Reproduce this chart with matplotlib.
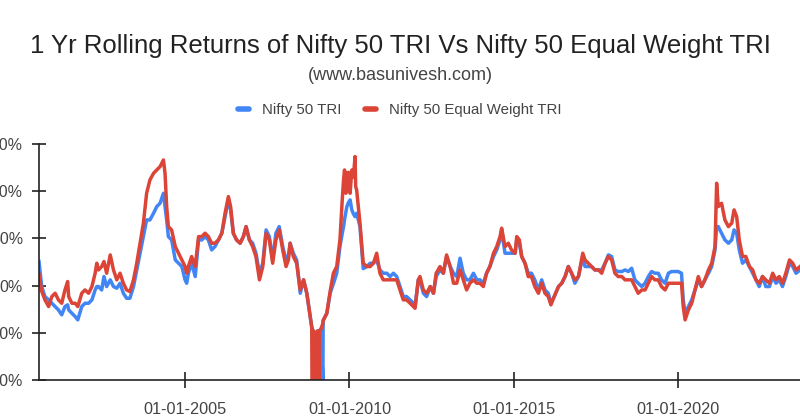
import pandas as pd
import matplotlib
matplotlib.use("Agg")
import matplotlib.pyplot as plt
import matplotlib.dates as mdates
from matplotlib.lines import Line2D
from matplotlib.ticker import FuncFormatter

plt.rcParams['font.family'] = ['Liberation Sans', 'DejaVu Sans']

title = "1 Yr Rolling Returns of Nifty 50 TRI Vs Nifty 50 Equal Weight TRI"
subtitle = "(www.basunivesh.com)"
series_names = ["Nifty 50 TRI", "Nifty 50 Equal Weight TRI"]
colors = ["#4285F4", "#DB4437"]

# (1 yr rolling return, %)
dates = [
    "2000-07-16", "2000-08-15", "2000-09-20", "2000-10-31", "2000-12-06",
    "2001-01-12", "2001-02-17", "2001-03-26", "2001-05-01", "2001-05-31",
    "2001-06-11", "2001-07-17", "2001-08-23", "2001-09-21", "2001-11-04",
    "2001-12-10", "2002-01-19", "2002-02-25", "2002-04-02", "2002-04-20",
    "2002-05-09", "2002-06-14", "2002-07-09", "2002-08-08", "2002-09-17",
    "2002-10-23", "2002-11-29", "2003-01-04", "2003-02-10", "2003-03-18",
    "2003-04-24", "2003-06-03", "2003-07-09", "2003-08-15", "2003-09-21",
    "2003-10-27", "2003-12-03", "2004-01-12", "2004-02-17", "2004-03-25",
    "2004-05-01", "2004-05-19", "2004-06-06", "2004-06-25", "2004-07-31",
    "2004-09-10", "2004-10-16", "2004-11-22", "2004-12-28", "2005-01-15",
    "2005-02-03", "2005-03-11", "2005-04-20", "2005-05-27", "2005-07-02",
    "2005-08-08", "2005-09-13", "2005-10-20", "2005-11-25", "2006-01-04",
    "2006-02-10", "2006-03-18", "2006-04-24", "2006-05-19", "2006-06-18",
    "2006-07-24", "2006-09-02", "2006-10-08", "2006-11-07", "2006-12-14",
    "2007-01-19", "2007-02-25", "2007-04-05", "2007-05-12", "2007-06-18",
    "2007-07-24", "2007-08-30", "2007-10-05", "2007-11-11", "2007-12-20",
    "2008-01-26", "2008-02-21", "2008-03-11", "2008-04-16", "2008-05-23",
    "2008-07-02", "2008-08-08", "2008-09-13", "2008-10-20", "2008-11-07",
    "2008-11-14", "2008-11-18", "2008-12-06", "2008-12-21", "2008-12-24",
    "2009-01-12", "2009-01-27", "2009-01-30", "2009-02-17", "2009-03-11",
    "2009-03-14", "2009-04-24", "2009-05-31", "2009-07-06", "2009-08-12",
    "2009-09-17", "2009-10-12", "2009-10-27", "2009-11-07", "2009-11-22",
    "2009-12-03", "2009-12-21", "2010-01-08", "2010-01-27", "2010-02-14",
    "2010-03-04", "2010-03-11", "2010-03-22", "2010-04-28", "2010-06-03",
    "2010-07-13", "2010-08-19", "2010-09-24", "2010-10-31", "2010-12-06",
    "2011-01-12", "2011-02-21", "2011-03-29", "2011-05-05", "2011-06-11",
    "2011-07-17", "2011-08-23", "2011-09-28", "2011-11-07", "2011-12-14",
    "2012-01-01", "2012-02-06", "2012-02-25", "2012-04-02", "2012-05-09",
    "2012-06-18", "2012-07-24", "2012-08-23", "2012-10-05", "2012-11-11",
    "2012-12-17", "2013-01-26", "2013-03-04", "2013-04-09", "2013-05-16",
    "2013-06-21", "2013-07-28", "2013-09-02", "2013-10-12", "2013-11-18",
    "2013-12-24", "2014-01-30", "2014-03-07", "2014-04-13", "2014-05-23",
    "2014-06-28", "2014-08-04", "2014-08-22", "2014-09-28", "2014-11-04",
    "2014-12-10", "2015-01-19", "2015-02-06", "2015-03-07", "2015-04-02",
    "2015-05-09", "2015-06-14", "2015-07-20", "2015-08-26", "2015-10-05",
    "2015-11-11", "2015-12-17", "2016-01-23", "2016-02-21", "2016-03-29",
    "2016-05-16", "2016-06-21", "2016-07-28", "2016-09-02", "2016-10-09",
    "2016-11-14", "2016-12-24", "2017-02-10", "2017-03-07", "2017-04-13",
    "2017-05-19", "2017-06-25", "2017-08-04", "2017-09-09", "2017-10-16",
    "2017-11-22", "2017-12-28", "2018-02-03", "2018-03-11", "2018-04-20",
    "2018-05-27", "2018-07-02", "2018-08-08", "2018-09-13", "2018-10-20",
    "2018-11-29", "2019-01-04", "2019-02-10", "2019-03-18", "2019-04-24",
    "2019-05-31", "2019-07-06", "2019-08-15", "2019-09-21", "2019-10-27",
    "2019-12-03", "2020-01-08", "2020-02-14", "2020-03-04", "2020-03-25",
    "2020-05-01", "2020-06-07", "2020-07-13", "2020-08-19", "2020-09-24",
    "2020-10-31", "2020-12-10", "2021-01-15", "2021-02-21", "2021-03-11",
    "2021-03-29", "2021-05-05", "2021-06-11", "2021-07-20", "2021-08-26",
    "2021-09-21", "2021-10-20", "2021-11-18", "2021-12-24", "2022-01-30",
    "2022-03-11", "2022-04-16", "2022-05-23", "2022-06-28", "2022-08-04",
    "2022-09-09", "2022-10-20", "2022-11-25", "2023-01-01", "2023-02-06",
    "2023-03-14", "2023-04-20", "2023-05-31", "2023-07-06", "2023-08-12",
    "2023-09-25",
]

nifty50_tri = [
    25.5, -1.0, -11.6, -15.1, -18.7,
    -22.2, -25.7, -31.0, -22.2, -20.4,
    -25.7, -29.3, -32.8, -36.3, -22.2,
    -18.7, -18.7, -15.1, -4.6, -1.0,
    -1.0, -4.6, 9.6, -1.0, 6.1,
    -1.0, -2.8, 2.5, -8.1, -13.4,
    -13.4, -1.0, 16.6, 34.3, 52.0,
    69.6, 69.6, 76.7, 83.7, 87.3,
    97.8, 83.7, 69.6, 51.9, 48.4,
    27.2, 23.7, 20.2, 6.1, 2.5,
    13.1, 23.7, 9.6, 48.4, 48.4,
    51.9, 48.4, 37.8, 41.3, 48.4,
    55.5, 73.1, 90.8, 80.2, 55.5,
    48.4, 44.9, 51.9, 62.5, 48.4,
    44.9, 34.3, 13.1, 23.7, 59.0,
    51.9, 27.2, 55.5, 62.5, 41.3,
    27.2, 30.8, 44.9, 34.3, 27.2,
    -8.1, 6.1, -8.1, -32.8, -44.0,
    -46.0, -47.0, -50.0, -50.0, -50.0,
    -48.0, -100.0, -48.0, -46.0, -100.0,
    -37.0, -29.3, -8.0, 2.0, 13.1,
    41.3, 55.0, 62.5, 70.0, 78.0,
    83.7, 88.0, 90.8, 80.2, 76.0,
    73.1, 75.0, 76.6, 62.5, 18.0,
    20.2, 23.7, 23.7, 27.2, 16.6,
    13.1, 13.1, 9.6, 13.1, 9.6,
    -1.0, -11.6, -11.6, -15.1, -18.7,
    -22.2, 6.1, 6.1, -8.1, -11.6,
    -1.0, -8.1, 9.6, 16.6, 13.1,
    30.8, 20.2, 13.1, 9.6, 29.0,
    13.1, 6.1, 6.1, 13.1, 6.1,
    6.1, 2.5, 13.1, 20.2, 30.8,
    37.8, 48.4, 59.0, 34.3, 34.3,
    34.3, 34.3, 48.4, 44.9, 30.8,
    23.7, 13.1, 13.1, 6.1, -4.6,
    6.1, -4.6, -8.1, -18.7, -11.6,
    -1.0, 2.5, 9.6, 20.2, 13.1,
    2.5, 9.6, 30.8, 20.2, 20.2,
    20.2, 16.6, 16.6, 16.6, 23.7,
    32.5, 30.8, 16.6, 14.9, 14.9,
    16.6, 14.9, 18.4, 6.1, 2.5,
    -1.0, 2.5, 9.6, 14.9, 13.1,
    13.1, 6.1, 2.5, 13.1, 14.9,
    14.9, 14.9, 13.1, -15.1, -29.3,
    -22.2, -15.1, -4.6, 6.1, -1.0,
    6.1, 13.1, 20.2, 37.8, 62.5,
    62.5, 55.5, 48.4, 44.9, 48.4,
    59.0, 55.5, 37.8, 23.7, 27.2,
    20.2, 13.1, 6.1, -1.0, 9.6,
    -1.0, -1.0, 9.6, 2.5, 6.1,
    -1.0, 9.6, 23.7, 20.2, 13.1,
    16.6,
]

nifty50_ew_tri = [
    12.0, -6.0, -15.1, -22.2, -11.6,
    -8.1, -15.1, -18.7, -4.6, 4.3,
    -11.6, -18.7, -18.7, -22.2, -8.1,
    -4.6, -8.1, -1.0, 13.1, 23.7,
    16.6, 20.2, 25.5, 13.1, 32.5,
    16.6, 6.1, 13.1, 2.5, -4.6,
    -6.3, 6.1, 23.7, 44.9, 66.1,
    97.8, 112.0, 119.0, 122.5, 126.1,
    133.1, 119.0, 83.7, 62.5, 59.0,
    41.3, 34.3, 27.2, 20.2, 13.1,
    20.2, 30.8, 20.2, 51.9, 51.9,
    55.5, 51.9, 44.9, 44.9, 48.4,
    55.5, 76.6, 94.3, 83.7, 55.5,
    48.4, 44.9, 51.9, 62.5, 48.4,
    41.3, 30.8, 6.1, 20.2, 55.5,
    48.4, 23.7, 48.4, 59.0, 37.8,
    20.2, 27.2, 44.9, 30.8, 23.7,
    -4.6, 6.1, -8.1, -32.8, -44.0,
    -100.0, -47.0, -50.0, -100.0, -50.0,
    -48.0, -100.0, -48.0, -46.0, -40.0,
    -37.0, -29.3, -6.0, 13.1, 20.2,
    48.4, 90.0, 112.0, 122.5, 97.8,
    119.0, 120.0, 97.8, 122.5, 115.0,
    136.7, 105.0, 101.3, 66.1, 23.7,
    20.2, 20.2, 23.7, 34.3, 13.1,
    6.1, 6.1, 6.1, 6.1, 6.1,
    -4.6, -15.1, -15.1, -18.7, -22.2,
    -24.0, 6.1, 9.6, -4.6, -8.1,
    -1.0, -8.1, 13.1, 20.2, 13.1,
    32.5, 20.2, 2.5, 2.5, 16.6,
    6.1, -4.6, 2.5, 6.1, 2.5,
    2.5, -1.0, 13.1, 20.2, 34.3,
    41.3, 51.9, 60.8, 41.3, 44.9,
    37.8, 34.3, 51.9, 48.4, 30.8,
    23.7, 9.6, 9.6, -1.0, -8.1,
    2.5, -8.1, -11.6, -20.4, -11.6,
    -1.0, 2.5, 9.6, 20.2, 13.1,
    6.1, 9.6, 34.3, 27.2, 23.7,
    20.2, 16.6, 16.6, 13.1, 23.7,
    30.8, 27.2, 13.1, 9.6, 9.6,
    6.1, 6.1, 6.1, -1.0, -8.1,
    -4.6, -4.6, 2.5, 9.6, 6.1,
    6.1, -1.0, -4.6, 2.5, 2.5,
    2.5, 2.5, 2.5, -22.2, -36.3,
    -25.7, -18.7, -4.6, 9.6, -1.0,
    6.1, 16.6, 23.7, 41.3, 108.4,
    83.7, 87.2, 69.6, 62.5, 66.1,
    80.2, 73.1, 48.4, 30.8, 30.8,
    20.2, 16.6, 6.1, 2.5, 9.6,
    6.1, 2.5, 13.1, 6.1, 9.6,
    2.5, 13.1, 27.2, 23.7, 16.6,
    20.2,
]

x_range = ("2000-07-16", "2023-09-25")
y_ticks = [-100, -50, 0, 50, 100, 150]
x_ticks = ["2005-01-01", "2010-01-01", "2015-01-01", "2020-01-01"]

x = pd.to_datetime(dates)

fig = plt.figure(figsize=(8, 4.19), dpi=100)
ax = fig.add_axes([0.04875, 0.0931, 0.95125, 0.5632])

ax.plot(x, nifty50_tri, color=colors[0], lw=2.5, solid_joinstyle="round")
ax.plot(x, nifty50_ew_tri, color=colors[1], lw=2.5, solid_joinstyle="round")

ax.set_xlim(pd.to_datetime(x_range[0]), pd.to_datetime(x_range[1]))
ax.set_ylim(y_ticks[0], y_ticks[-1])
ax.set_yticks(y_ticks)
ax.yaxis.set_major_formatter(FuncFormatter(lambda v, p: f"{v:.0f}%"))
ax.set_xticks(pd.to_datetime(x_ticks))
ax.xaxis.set_major_formatter(mdates.DateFormatter("%d-%m-%Y"))

for s in ["top", "right"]:
    ax.spines[s].set_visible(False)
for s in ["left", "bottom"]:
    ax.spines[s].set_color("#222222")
    ax.spines[s].set_linewidth(1.2)
ax.tick_params(axis="x", direction="inout", length=11, width=1.2, color="#222222",
               labelsize=11.7, labelcolor="#444444", pad=10)
ax.tick_params(axis="y", direction="inout", length=10, width=1.2, color="#222222",
               labelsize=11.5, labelcolor="#444444", pad=6.5)

fig.text(0.5, 1 - 46 / 419, title, ha="center", va="center", fontsize=18.5, color="#222222")
fig.text(0.5, 1 - 75 / 419, subtitle, ha="center", va="center", fontsize=13, color="#444444")

handles = [Line2D([0], [0], color=c, lw=4, solid_capstyle="round") for c in colors]
fig.legend(handles, series_names, loc="center", bbox_to_anchor=(0.5, 1 - 110 / 419),
           ncol=2, frameon=False, fontsize=10.8, handlelength=0.7, handletextpad=0.9,
           columnspacing=1.6, labelcolor="#444444")

fig.savefig("out.png", dpi=100)
